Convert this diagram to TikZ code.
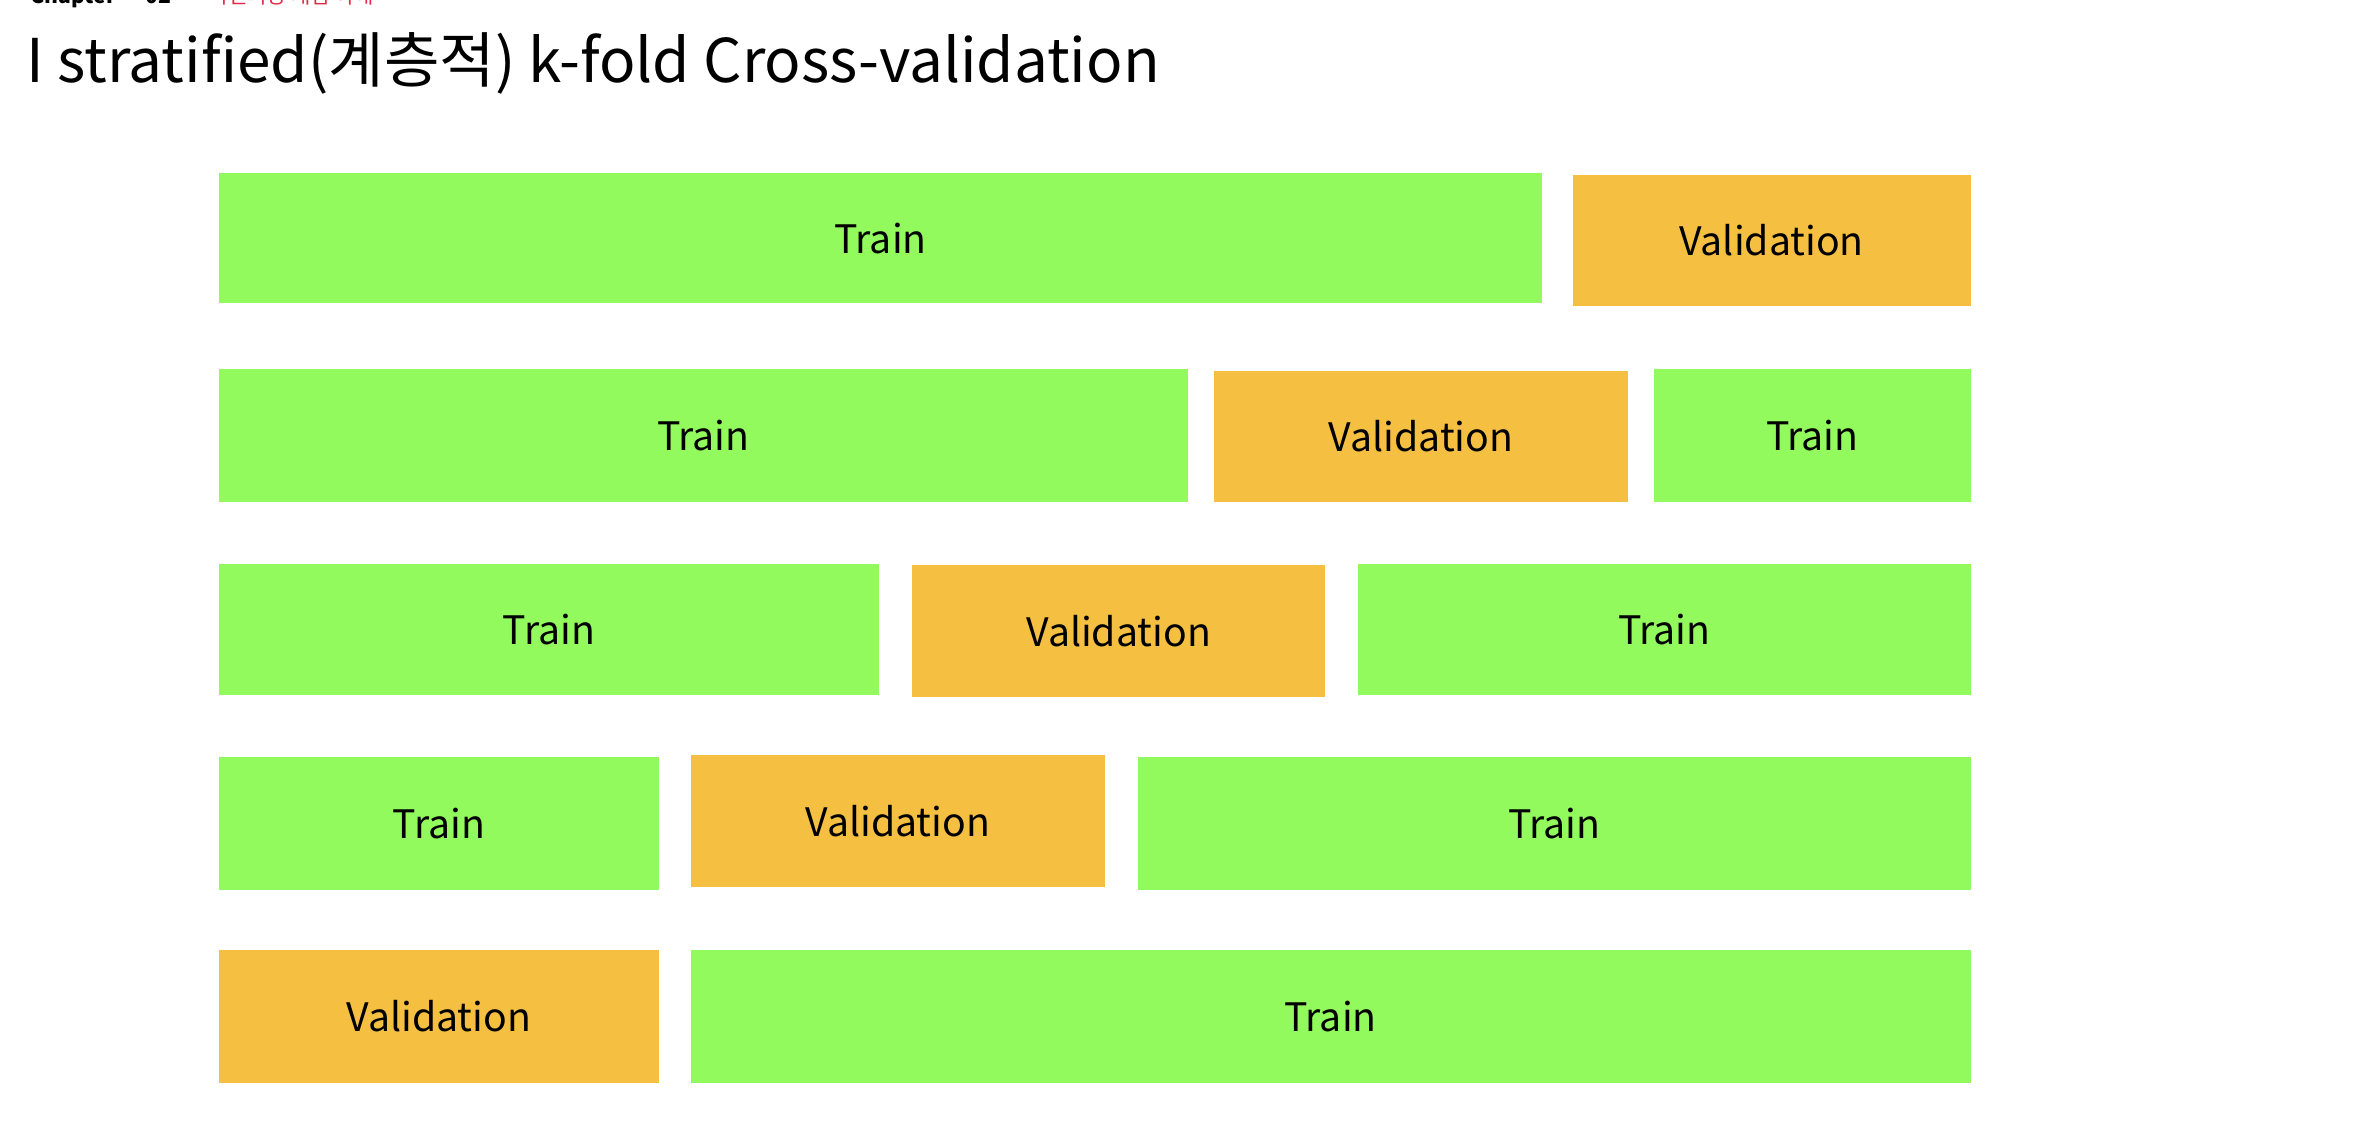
\documentclass[tikz,border=0pt]{standalone}
\usepackage{fontspec}
\setmainfont{Noto Sans CJK KR}
\definecolor{trgreen}{RGB}{146,250,92}
\definecolor{valorange}{RGB}{245,192,66}
\definecolor{hdrred}{RGB}{230,40,70}
\begin{document}
\begin{tikzpicture}[x=0.5pt,y=-0.5pt,
  blk/.style={inner sep=0pt, outer sep=0pt, draw=none, font=\fontsize{13}{15}\selectfont},
  trainbox/.style={blk, fill=trgreen},
  valbox/.style={blk, fill=valorange},
  hdr/.style={anchor=base west, inner sep=0pt, font=\fontsize{7}{8}\selectfont}]
\useasboundingbox (0,0) rectangle (1568,752);
\fill[white] (0,0) rectangle (1568,752);
\newcommand\fold[7]{%
  \node[#6, minimum width={(#4-#2)*0.5pt}, minimum height={(#5-#3)*0.5pt}] (#1) at ({(#2+#4)/2},{(#3+#5)/2}) {#7};}
% header (cut off at the top edge, as in the reference)
\node[hdr, font=\fontsize{7}{8}\selectfont\bfseries] (hchap) at (20,2) {Chapter};
\node[hdr, font=\fontsize{7}{8}\selectfont\bfseries] (hnum) at (96,2) {02};
\node[hdr, text=hdrred] (hsub) at (138,2) {머신러닝 개념 이해};
% title
\node[anchor=base west, inner sep=0pt, font=\fontsize{20}{24}\selectfont] (title) at (17,55) {I stratified(계층적) k-fold Cross-validation};
% row 1
\fold{r1a}{145}{115}{1023}{201}{trainbox}{Train}
\fold{r1b}{1043}{116}{1307}{203}{valbox}{Validation}
% row 2
\fold{r2a}{145}{245}{788}{333}{trainbox}{Train}
\fold{r2b}{805}{246}{1080}{333}{valbox}{Validation}
\fold{r2c}{1097}{245}{1307}{333}{trainbox}{Train}
% row 3
\fold{r3a}{145}{374}{583}{461}{trainbox}{Train}
\fold{r3b}{605}{375}{879}{462}{valbox}{Validation}
\fold{r3c}{901}{374}{1307}{461}{trainbox}{Train}
% row 4
\fold{r4a}{145}{502}{437}{590}{trainbox}{Train}
\fold{r4b}{458}{501}{733}{588}{valbox}{Validation}
\fold{r4c}{755}{502}{1307}{590}{trainbox}{Train}
% row 5
\fold{r5a}{145}{630}{437}{718}{valbox}{Validation}
\fold{r5b}{458}{630}{1307}{718}{trainbox}{Train}
\end{tikzpicture}
\end{document}
